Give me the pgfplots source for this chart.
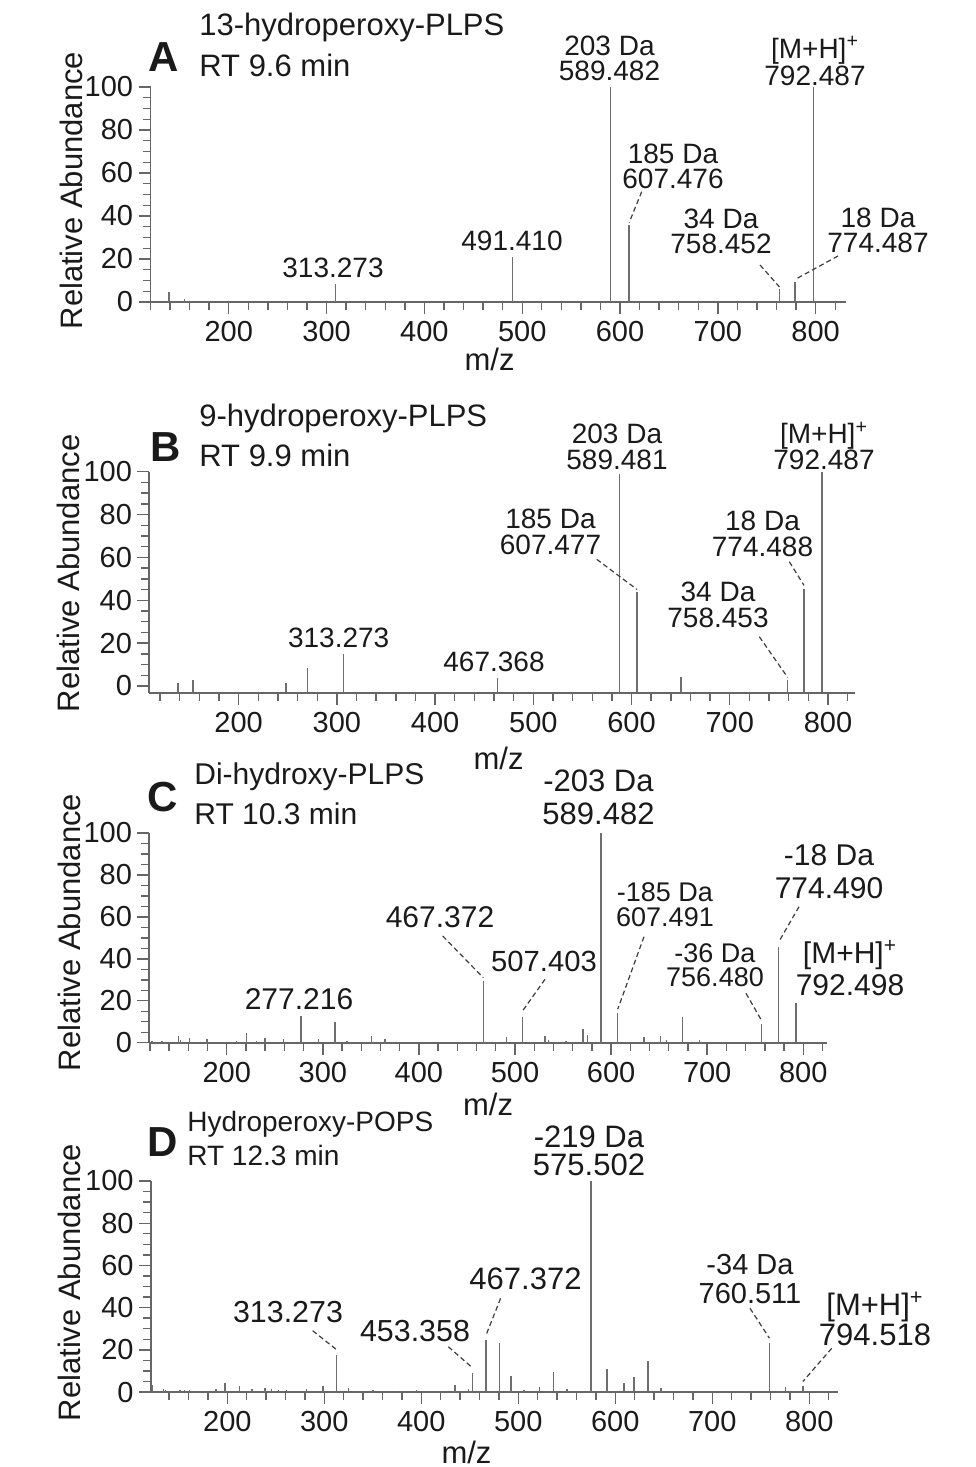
\documentclass[border=0pt]{standalone}
\usepackage{fontspec}
\setmainfont{Liberation Sans}
\usepackage{pgfplots}
\pgfplotsset{compat=1.18}
\definecolor{peak}{HTML}{6E6E6E}
\definecolor{axc}{HTML}{666666}
\definecolor{txt}{HTML}{1A1A1A}
\newcommand{\fs}[2]{\fontsize{#1}{#2}\selectfont}
\pgfplotsset{ms/.style={
 scale only axis, clip=false, anchor=south west,
 axis lines=left, axis line style={-, draw=axc, line width=0.9pt},
 tick align=outside, major tick length=6pt, minor tick length=4pt,
 every tick/.style={draw=axc, line width=0.7pt},
 xtick={200,300,...,800}, minor xtick={120,140,...,820},
 ytick={0,20,...,100}, minor ytick={0,5,...,100},
 ymin=0, ymax=100,
 tick label style={font=\fs{14.5}{16}, text=txt},
 yticklabel style={inner xsep=2.5pt},
 /pgf/number format/assume math mode=true,
 label style={font=\fs{15.5}{17}, text=txt},
 xlabel={m/z}, ylabel={Relative Abundance},
}}
\tikzset{pk/.style={ycomb, draw=peak, line width=0.75pt, mark=none},
 ld/.style={draw=txt!85, line width=0.6pt, dash pattern=on 2.5pt off 1.6pt}}
\begin{document}
\begin{tikzpicture}
\useasboundingbox (0,0) rectangle (487.5pt,-733.5pt);
% ---------- A
\begin{axis}[ms, at={(75.25pt,-151pt)}, width=347.75pt, height=107.5pt, xmin=120, xmax=831,
 ylabel style={at={(axis description cs:-0.1136,0.518)}, anchor=center},
 xlabel style={at={(axis description cs:0.4876,-0.265)}, anchor=center}]
\addplot[pk] coordinates {(139,4.7) (155,1.2) (309,8.2) (490,21) (590.3,100) (609.4,35.8) (763,5.9) (779,9.4) (798,100)};
\coordinate (pA607) at (axis cs:609.4,37);
\coordinate (pA758) at (axis cs:763,7);
\coordinate (pA774) at (axis cs:779,10.5);
\end{axis}
% ---------- B (peaks drawn down to the lowered x axis at -3.3)
\begin{axis}[ms, at={(74.65pt,-346.5pt)}, width=352.85pt, height=110.65pt, xmin=109, xmax=827.5, ymin=-3.3,
 ylabel style={at={(axis description cs:-0.1145,0.541)}, anchor=center},
 xlabel style={at={(axis description cs:0.495,-0.295)}, anchor=center}]
\addplot[draw=none, mark=none, error bars/.cd, y dir=minus, y explicit, error mark=none,
 error bar style={draw=peak, line width=0.75pt, solid}] coordinates {
 (138,1.6) -= (0,4.9) (153.6,2.6) -= (0,5.9) (248.2,1.2) -= (0,4.5) (270.2,8.5) -= (0,11.8)
 (306.8,14.7) -= (0,18) (463.5,3.9) -= (0,7.2) (587.6,99) -= (0,102.3) (605.6,43.7) -= (0,47)
 (650.5,4.4) -= (0,7.7) (758.9,2.6) -= (0,5.9) (775.5,45.3) -= (0,48.6) (793.8,100) -= (0,103.3)};
\coordinate (pB607) at (axis cs:605.6,45);
\coordinate (pB774) at (axis cs:775.5,47);
\coordinate (pB758) at (axis cs:758.9,4);
\end{axis}
% ---------- C
\begin{axis}[ms, at={(74.65pt,-521.35pt)}, width=339pt, height=104.85pt, xmin=119.4, xmax=825,
 ylabel style={at={(axis description cs:-0.1174,0.5255)}, anchor=center},
 xlabel style={at={(axis description cs:0.4996,-0.292)}, anchor=center}]
\addplot[pk] coordinates {(122,0.6) (132.4,1) (149.6,3.2) (152,1.5) (161,2.2) (179.2,1.9) (210.4,0.8) (220.8,4.8) (231.2,1) (239.9,2.2) (258.9,1.9) (277.3,12.7) (295.3,1.6) (312.7,10) (324.9,0.8) (350.9,3.2) (364.7,1.6) (467,29.4) (481,0.5) (491.3,2.9) (507.6,12.1) (531.2,3.2) (534.7,1.5) (553,1) (571,6.4) (575.6,3.5) (589.5,100) (606.9,14.3) (634.2,2.5) (651.6,3.2) (657.9,1.5) (674.1,12.1) (691.8,1.5) (756.7,8.9) (774.4,45.8) (792.4,19.1)};
\coordinate (pC774) at (axis cs:774.4,48);
\coordinate (pC607) at (axis cs:606.9,16);
\coordinate (pC756) at (axis cs:756.7,10.5);
\coordinate (pC507) at (axis cs:507.6,15);
\coordinate (pC467) at (axis cs:467,31);
\end{axis}
% ---------- D
\begin{axis}[ms, at={(75.5pt,-696pt)}, width=343.65pt, height=105.5pt, xmin=121.3, xmax=830,
 ylabel style={at={(axis description cs:-0.1183,0.519)}, anchor=center},
 xlabel style={at={(axis description cs:0.459,-0.285)}, anchor=center}]
\addplot[pk] coordinates {(123,3.2) (134,1.3) (136,0.8) (151,1) (156,0.8) (161,1) (188.3,1.3) (197.6,4.4) (212.4,2.8) (225.2,1.6) (238.9,1.9) (245.8,1.6) (253,0.9) (261,0.8) (281.9,1.3) (298.4,2.8) (312.8,17.4) (324.8,1.9) (350,0.8) (375,0.6) (395.3,0.8) (434.9,3.2) (448.6,1.3) (452.7,9) (466.8,24.8) (480.6,23.2) (492.3,7.6) (506,0.8) (521.8,2.4) (536.3,9.5) (550.1,1.6) (575.1,100) (591.3,10.9) (608.9,4.3) (619.5,7) (633.6,14.5) (647.3,1.9) (735,0.6) (759,23.4) (775.6,2.2) (793.5,2.8)};
\coordinate (pD467) at (axis cs:466.8,27);
\coordinate (pD313) at (axis cs:312.8,20);
\coordinate (pD453) at (axis cs:452.7,11.5);
\coordinate (pD760) at (axis cs:759,25.5);
\coordinate (pD794) at (axis cs:793.5,5);
\end{axis}
% ---------- annotations (pixel coordinates)
\begin{scope}[x=0.5pt, y=-0.5pt, every node/.style={text=txt, inner sep=0pt}]
% A
\node[anchor=west, font=\fs{15.5}{17}] at (199,27) {13-hydroperoxy-PLPS};
\node[anchor=west, font=\fs{15.5}{17}] at (199,65) {RT 9.6 min};
\node[font=\fs{21}{21}\bfseries] at (164,57) {A};
\node[align=center, font=\fs{14}{12.5}] at (609.5,58) {203 Da\\589.482};
\node[align=center, font=\fs{14}{12.5}] at (815,61) {[M+H]\textsuperscript{+}\\792.487};
\node[align=center, font=\fs{14}{12.5}] at (673,166.7) {185 Da\\607.476};
\node[font=\fs{14}{12.5}] at (512,241) {491.410};
\node[font=\fs{14}{12.5}] at (333,268) {313.273};
\node[align=center, font=\fs{14}{12.5}] at (721,231.7) {34 Da\\758.452};
\node[align=center, font=\fs{14}{12.5}] at (878,230) {18 Da\\774.487};
\draw[ld] (641.7,191.7) -- (pA607);
\draw[ld] (760,265) -- (pA758);
\draw[ld] (838,256) -- (pA774);
% B
\node[anchor=west, font=\fs{15.5}{17}] at (199,418.3) {9-hydroperoxy-PLPS};
\node[anchor=west, font=\fs{15.5}{17}] at (199,455) {RT 9.9 min};
\node[font=\fs{21}{21}\bfseries] at (166,446.7) {B};
\node[align=center, font=\fs{14}{13}] at (617,447) {203 Da\\589.481};
\node[align=center, font=\fs{14}{13}] at (824,446) {[M+H]\textsuperscript{+}\\792.487};
\node[align=center, font=\fs{14}{13}] at (550.5,531.7) {185 Da\\607.477};
\node[align=center, font=\fs{14}{13}] at (762.5,533.8) {18 Da\\774.488};
\node[align=center, font=\fs{14}{13}] at (718,605.3) {34 Da\\758.453};
\node[font=\fs{14}{13}] at (338.7,638.3) {313.273};
\node[font=\fs{14}{13}] at (494,662) {467.368};
\draw[ld] (596.7,559.3) -- (pB607);
\draw[ld] (789.3,561.7) -- (pB774);
\draw[ld] (759.3,636.7) -- (pB758);
% C
\node[anchor=west, font=\fs{15}{17}] at (194,776.7) {Di-hydroxy-PLPS};
\node[anchor=west, font=\fs{15}{17}] at (194,813.3) {RT 10.3 min};
\node[font=\fs{21}{21}\bfseries] at (163,796.7) {C};
\node[align=center, font=\fs{15.5}{16.5}] at (598.5,797.5) {-203 Da\\589.482};
\node[align=center, font=\fs{15}{16.5}] at (829,872) {-18 Da\\774.490};
\node[align=center, font=\fs{15}{16}] at (850,968) {[M+H]\textsuperscript{+}\\792.498};
\node[align=center, font=\fs{13.5}{12.5}] at (665,904.2) {-185 Da\\607.491};
\node[align=center, font=\fs{13.5}{12}] at (715,965.3) {-36 Da\\756.480};
\node[font=\fs{14.6}{15}] at (544,961.7) {507.403};
\node[font=\fs{15}{15}] at (440,917) {467.372};
\node[font=\fs{15}{15}] at (299,999) {277.216};
\draw[ld] (799,906.7) -- (pC774);
\draw[ld] (644,936.7) -- (pC607);
\draw[ld] (746,993.3) -- (pC756);
\draw[ld] (545,979.3) -- (pC507);
\draw[ld] (442.7,936) -- (pC467);
% D
\node[anchor=west, font=\fs{14}{16}] at (187,1124) {Hydroperoxy-POPS};
\node[anchor=west, font=\fs{14}{16}] at (187,1155.7) {RT 12.3 min};
\node[font=\fs{21}{21}\bfseries] at (163,1141.7) {D};
\node[align=center, font=\fs{15.5}{14}] at (589,1151) {-219 Da\\575.502};
\node[font=\fs{15.5}{15}] at (525.5,1279) {467.372};
\node[font=\fs{15.2}{15}] at (288,1312) {313.273};
\node[font=\fs{15.2}{15}] at (415,1330.7) {453.358};
\node[align=center, font=\fs{14.5}{14.5}] at (750,1278.7) {-34 Da\\760.511};
\node[align=center, font=\fs{15.5}{15}] at (875,1319) {[M+H]\textsuperscript{+}\\794.518};
\draw[ld] (500.6,1298.3) -- (pD467);
\draw[ld] (312.7,1330.7) -- (pD313);
\draw[ld] (448.3,1346.7) -- (pD453);
\draw[ld] (750,1308.3) -- (pD760);
\draw[ld] (831.7,1348.3) -- (pD794);
\end{scope}
\end{tikzpicture}
\end{document}
